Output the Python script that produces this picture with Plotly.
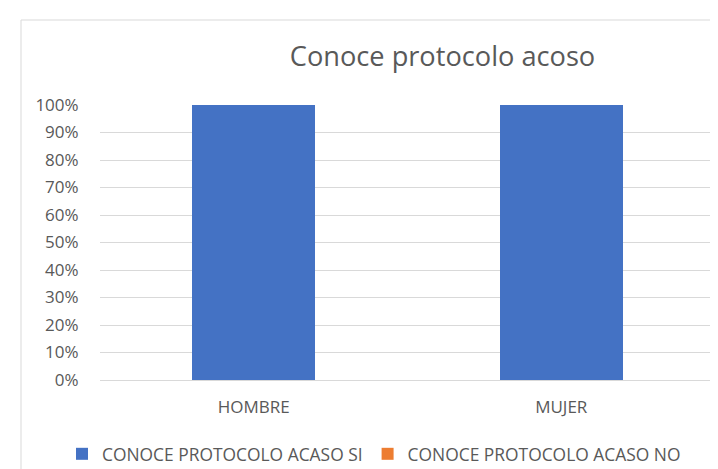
import plotly.graph_objects as go

categories = ["HOMBRE", "MUJER"]
si_values = [100, 100]
no_values = [0, 0]
series_names = ["CONOCE PROTOCOLO ACASO SI", "CONOCE PROTOCOLO ACASO NO"]
title_text = "Conoce protocolo acoso"

FONT = "Open Sans"
TXT = "#595959"

fig = go.Figure()
fig.add_trace(go.Bar(x=categories, y=si_values, name=series_names[0],
                     marker=dict(color="#4472C4", line=dict(width=0))))
fig.add_trace(go.Bar(x=categories, y=no_values, name=series_names[1],
                     marker=dict(color="#ED7D31", line=dict(width=0))))

W, H = 718, 469
L, R, T, B = 92, 11, 97, 97
pw = W - L - R
ph = H - T - B

def px_x(p):
    return (p - L) / pw

def px_y(p):
    return (H - B - p) / ph

fig.update_layout(
    template="none",
    width=W, height=H,
    margin=dict(l=L, r=R, t=T, b=B, autoexpand=False),
    paper_bgcolor="white", plot_bgcolor="white",
    barmode="stack", bargap=0.6,
    font=dict(family=FONT, color=TXT, size=17),
    title=dict(text=title_text, x=434.5 / W, xanchor="center",
               y=1 - 48.5 / H, yanchor="middle",
               font=dict(family=FONT, size=27.2, color=TXT)),
    xaxis=dict(showgrid=False, showline=True, linecolor="#d9d9d9", linewidth=1,
               ticks="outside", ticklen=12, tickcolor="rgba(0,0,0,0)",
               tickfont=dict(size=17, color=TXT), automargin=False),
    yaxis=dict(range=[0, 100], dtick=10, ticksuffix="%",
               showgrid=True, gridcolor="#d9d9d9", gridwidth=1,
               zeroline=False, showline=False,
               ticks="outside", ticklen=17, tickcolor="rgba(0,0,0,0)",
               tickfont=dict(size=17, color=TXT), automargin=False),
    legend=dict(orientation="h", x=px_x(54), xanchor="left",
                y=px_y(446), yanchor="middle",
                font=dict(size=17.4, color=TXT),
                traceorder="normal", bgcolor="rgba(0,0,0,0)"),
    shapes=[dict(type="rect", xref="paper", yref="paper",
                 x0=px_x(13), x1=px_x(740), y0=px_y(490), y1=px_y(12),
                 line=dict(color="#d9d9d9", width=1), layer="below")],
)

fig.write_html("out.html")
